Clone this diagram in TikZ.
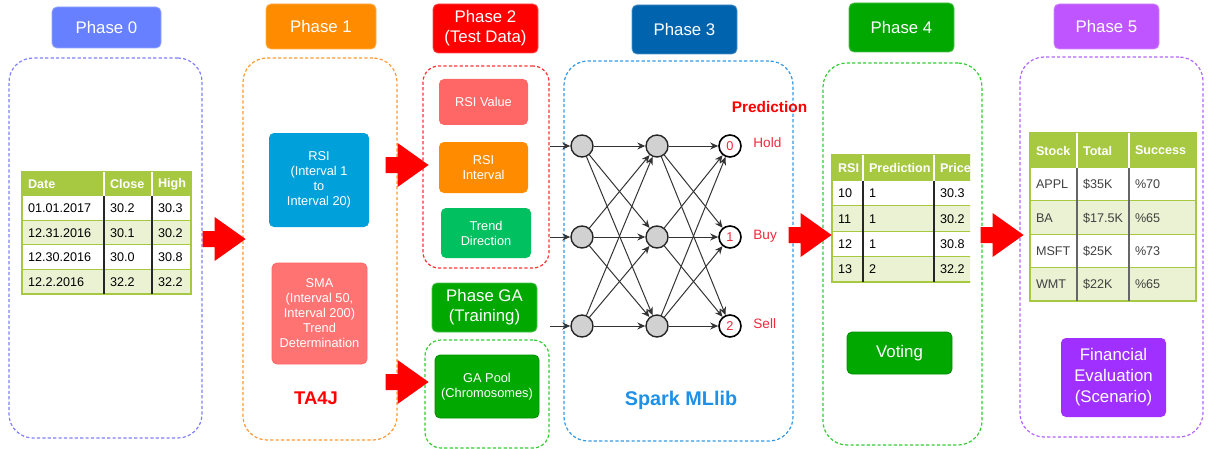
\documentclass[tikz,border=0pt]{standalone}
\usepackage{fontspec}
\setmainfont{Liberation Sans}
\usetikzlibrary{arrows.meta}

\definecolor{phzero}{RGB}{102,128,255}
\definecolor{phone}{RGB}{255,140,0}
\definecolor{phtwo}{RGB}{255,0,0}
\definecolor{phthree}{RGB}{0,99,174}
\definecolor{phfour}{RGB}{0,168,0}
\definecolor{phfive}{RGB}{191,85,255}
\definecolor{lineblue}{RGB}{128,128,255}
\definecolor{lineorange}{RGB}{255,153,51}
\definecolor{linered}{RGB}{255,51,51}
\definecolor{linegreen}{RGB}{51,204,51}
\definecolor{linesky}{RGB}{51,153,230}
\definecolor{linepurple}{RGB}{178,102,255}
\definecolor{rsiblue}{RGB}{0,160,218}
\definecolor{smared}{RGB}{255,115,115}
\definecolor{valred}{RGB}{255,102,102}
\definecolor{trendgreen}{RGB}{0,192,96}
\definecolor{finpurple}{RGB}{160,48,255}
\definecolor{sparkblue}{RGB}{30,144,230}
\definecolor{predred}{RGB}{240,40,60}
\definecolor{tabgreen}{RGB}{167,201,66}
\definecolor{rowgreen}{RGB}{234,242,211}
\definecolor{cellgray}{RGB}{64,64,64}

\begin{document}
\begin{tikzpicture}[x=0.5pt,y=-0.5pt,
    phase/.style={rounded corners=2.5pt, inner sep=0pt, text=white, align=center, font=\fontsize{8.4}{10}\selectfont},
    group/.style={draw, dash pattern=on 1.6pt off 1.1pt, line width=0.6pt, rounded corners=12pt, inner sep=0pt},
    box/.style={rounded corners=2.5pt, inner sep=0pt, text=white, align=center, font=\fontsize{6.4}{7.5}\selectfont},
    thead/.style={anchor=west, inner sep=2.8pt, text=white, font=\bfseries\fontsize{6.3}{7.5}\selectfont},
    tcell/.style={anchor=west, inner sep=2.8pt, font=\fontsize{6.3}{7.5}\selectfont},
    tline/.style={tabgreen, line width=0.8pt},
    tsep/.style={black!85, line width=0.7pt},
    neuron/.style={circle, draw=black!85, line width=0.7pt, fill=black!18, minimum size=11pt, inner sep=0pt},
    outnode/.style={circle, draw=black, line width=0.8pt, fill=white, minimum size=11pt, inner sep=0pt, text=predred, font=\fontsize{6.4}{7}\selectfont},
    nnedge/.style={-{Stealth[length=4pt,width=3.5pt]}, black!80, line width=0.5pt},
    redarrow/.pic={\fill[red] (0,-8) -- (12,-8) -- (12,-22) -- (43,0) -- (12,22) -- (12,8) -- (0,8) -- cycle;}]
    \useasboundingbox (0,0) rectangle (1209,449);

    % dashed groups
    \node[group, draw=lineblue, minimum width=96.5pt, minimum height=190pt] (c0) at (105.5,248) {};
    \node[group, draw=lineorange, minimum width=77pt, minimum height=191pt] (c1) at (320,249) {};
    \node[group, draw=linered, rounded corners=8pt, minimum width=63pt, minimum height=101pt] (c2) at (486,167) {};
    \node[group, draw=linegreen, rounded corners=8pt, minimum width=62pt, minimum height=54pt] (cga) at (487,394) {};
    \node[group, draw=linesky, minimum width=114.5pt, minimum height=190pt] (c3) at (678.5,251) {};
    \node[group, draw=linegreen, minimum width=79.5pt, minimum height=191pt] (c4) at (902.5,254) {};
    \node[group, draw=linepurple, minimum width=91.5pt, minimum height=190pt] (c5) at (1111.5,247) {};

    % phase titles
    \node[phase, fill=phzero, draw=phzero!70!white, minimum width=54.5pt, minimum height=20.5pt] (h0) at (106.5,27.5) {Phase 0};
    \node[phase, fill=phone, draw=phone!70!white, minimum width=55pt, minimum height=22.5pt] (h1) at (321,26.5) {Phase 1};
    \node[phase, fill=phtwo, draw=phtwo!70!white, minimum width=52.5pt, minimum height=24.5pt] (h2) at (485.5,28.5) {Phase 2\\(Test Data)};
    \node[phase, fill=phfour, draw=phfour!70!white, minimum width=52.5pt, minimum height=24.5pt] (hga) at (484.5,307.5) {Phase GA\\(Training)};
    \node[phase, fill=phthree, draw=phthree!70!white, minimum width=52.5pt, minimum height=24.5pt] (h3) at (684.5,29.5) {Phase 3};
    \node[phase, fill=phfour, draw=phfour!70!white, minimum width=52.5pt, minimum height=24.5pt] (h4) at (901.5,27.5) {Phase 4};
    \node[phase, fill=phfive, draw=phfive!70!white, minimum width=52.5pt, minimum height=22.5pt] (h5) at (1106.5,26.5) {Phase 5};

    % phase 1
    \node[box, fill=rsiblue, minimum width=50pt, minimum height=47pt] (rsi) at (319,180) {RSI\\(Interval 1\\to\\Interval 20)};
    \node[box, fill=smared, draw=valred, minimum width=47.5pt, minimum height=50.5pt] (sma) at (319.5,313.5) {SMA\\(Interval 50,\\Interval 200)\\Trend\\Determination};
    \node[text=red, font=\bfseries\fontsize{9.2}{11}\selectfont] (ta4j) at (316,398) {TA4J};

    % phase 2 and GA
    \node[box, fill=valred, minimum width=44.5pt, minimum height=23pt] (rsiv) at (483.5,102) {RSI Value};
    \node[box, fill=phone, minimum width=44.5pt, minimum height=25.5pt] (rsii) at (483.5,167.5) {RSI\\Interval};
    \node[box, fill=trendgreen, minimum width=45pt, minimum height=25pt] (trend) at (486,233) {Trend\\Direction};
    \node[box, fill=phfour, draw=phfour!85!black, minimum width=52pt, minimum height=31.5pt] (pool) at (487,386.5) {GA Pool\\(Chromosomes)};

    % phase 3 network
    \foreach \y/\lab/\act [count=\i] in {146/0/Hold,237/1/Buy,326/2/Sell}{
      \node[neuron] (n1-\i) at (582,\y) {};
      \node[neuron] (n2-\i) at (657,\y) {};
      \node[outnode] (o-\i) at (730,\y) {\lab};
      \node[anchor=base west, inner sep=0pt, text=predred, font=\fontsize{6.8}{8}\selectfont] (act-\i) at (753,\y+2) {\act};
      \draw[nnedge] (c2.east |- n1-\i) -- (n1-\i);
    }
    \foreach \i in {1,2,3}
      \foreach \j in {1,2,3}{
        \draw[nnedge] (n1-\i) -- (n2-\j);
        \draw[nnedge] (n2-\i) -- (o-\j);
      }
    \node[text=red, font=\bfseries\fontsize{7.7}{9}\selectfont] (pred) at (769.5,107) {Prediction};
    \node[text=sparkblue, font=\bfseries\fontsize{9.9}{12}\selectfont] (spark) at (681,400) {Spark MLlib};

    % phase 0 table
    \fill[tabgreen] (22,172) rectangle (191,196);
    \foreach \txt/\x [count=\k] in {Date/22,Close/104,High/152}
      \node[thead] (d0-\k) at (\x,184) {\txt};
    \foreach \da/\cl/\hi/\bg [count=\r] in {01.01.2017/30.2/30.3/white,12.31.2016/30.1/30.2/rowgreen,12.30.2016/30.0/30.8/white,12.2.2016/32.2/32.2/rowgreen}{
      \fill[\bg] (22,171.5+24.5*\r) rectangle (191,196+24.5*\r);
      \node[tcell] (d\r-1) at (22,183.75+24.5*\r) {\da};
      \node[tcell] (d\r-2) at (104,183.75+24.5*\r) {\cl};
      \node[tcell] (d\r-3) at (152,183.75+24.5*\r) {\hi};
      \draw[tline] (22,196+24.5*\r) -- (191,196+24.5*\r);
    }
    \draw[tline] (22,172) rectangle (191,294);
    \draw[white, line width=0.7pt] (104,172) -- (104,196) (152,172) -- (152,196);
    \draw[tsep] (104,196) -- (104,294) (152,196) -- (152,294);

    % phase 4 table, cut at the right
    \begin{scope}
      \clip (826,150) rectangle (970,290);
      \fill[tabgreen] (832,155) rectangle (995,181);
      \foreach \txt/\x [count=\k] in {RSI/832,Prediction/863,Price/934}
        \node[thead] (v0-\k) at (\x,168) {\txt};
      \foreach \rs/\pr/\pc/\bg [count=\r] in {10/1/30.3/white,11/1/30.2/rowgreen,12/1/30.8/white,13/2/32.2/rowgreen}{
        \fill[\bg] (832,155.75+25.25*\r) rectangle (995,181+25.25*\r);
        \node[tcell] (v\r-1) at (832,168.375+25.25*\r) {\rs};
        \node[tcell] (v\r-2) at (863,168.375+25.25*\r) {\pr};
        \node[tcell] (v\r-3) at (934,168.375+25.25*\r) {\pc};
        \draw[tline] (832,181+25.25*\r) -- (995,181+25.25*\r);
      }
      \draw[tline] (832,155) rectangle (995,282);
      \draw[white, line width=0.7pt] (863,155) -- (863,181) (934,155) -- (934,181);
      \draw[tsep] (863,181) -- (863,282) (934,181) -- (934,282);
    \end{scope}
    \node[phase, fill=phfour, draw=phfour!85!black, minimum width=52.5pt, minimum height=21pt] (vote) at (899.5,353) {Voting};

    % phase 5 table
    \fill[tabgreen] (1030,133) rectangle (1196,168);
    \foreach \txt/\x [count=\k] in {Stock/1030,Total/1077,Success/1129}
      \node[thead] (s0-\k) at (\x,150.5) {\txt};
    \foreach \st/\tt/\sc/\bg [count=\r] in {APPL/\$35K/\%70/white,BA/\$17.5K/\%65/rowgreen,MSFT/\$25K/\%73/white,WMT/\$22K/\%65/rowgreen}{
      \fill[\bg] (1030,134.75+33.25*\r) rectangle (1196,168+33.25*\r);
      \node[tcell, text=cellgray] (s\r-1) at (1030,151.375+33.25*\r) {\st};
      \node[tcell, text=cellgray] (s\r-2) at (1077,151.375+33.25*\r) {\tt};
      \node[tcell, text=cellgray] (s\r-3) at (1129,151.375+33.25*\r) {\sc};
      \draw[tline] (1030,168+33.25*\r) -- (1196,168+33.25*\r);
    }
    \draw[tline] (1030,133) rectangle (1196,301);
    \draw[white, line width=0.7pt] (1077,133) -- (1077,168) (1129,133) -- (1129,168);
    \draw[tsep, black!60] (1077,168) -- (1077,301) (1129,168) -- (1129,301);
    \node[phase, fill=finpurple, minimum width=52.5pt, minimum height=39.5pt, font=\fontsize{8.4}{10.5}\selectfont] (fin) at (1113.5,377.5) {Financial\\Evaluation\\(Scenario)};

    % red arrows between phases
    \pic at (c0.east |- 0,239) {redarrow};
    \pic at ([xshift=-6pt]c1.east |- 0,165) {redarrow};
    \pic at ([xshift=-6pt]c1.east |- 0,382) {redarrow};
    \pic at ([xshift=-2.5pt]c3.east |- 0,235) {redarrow};
    \pic at ([xshift=-1pt]c4.east |- 0,235) {redarrow};
  \end{tikzpicture}
\end{document}
